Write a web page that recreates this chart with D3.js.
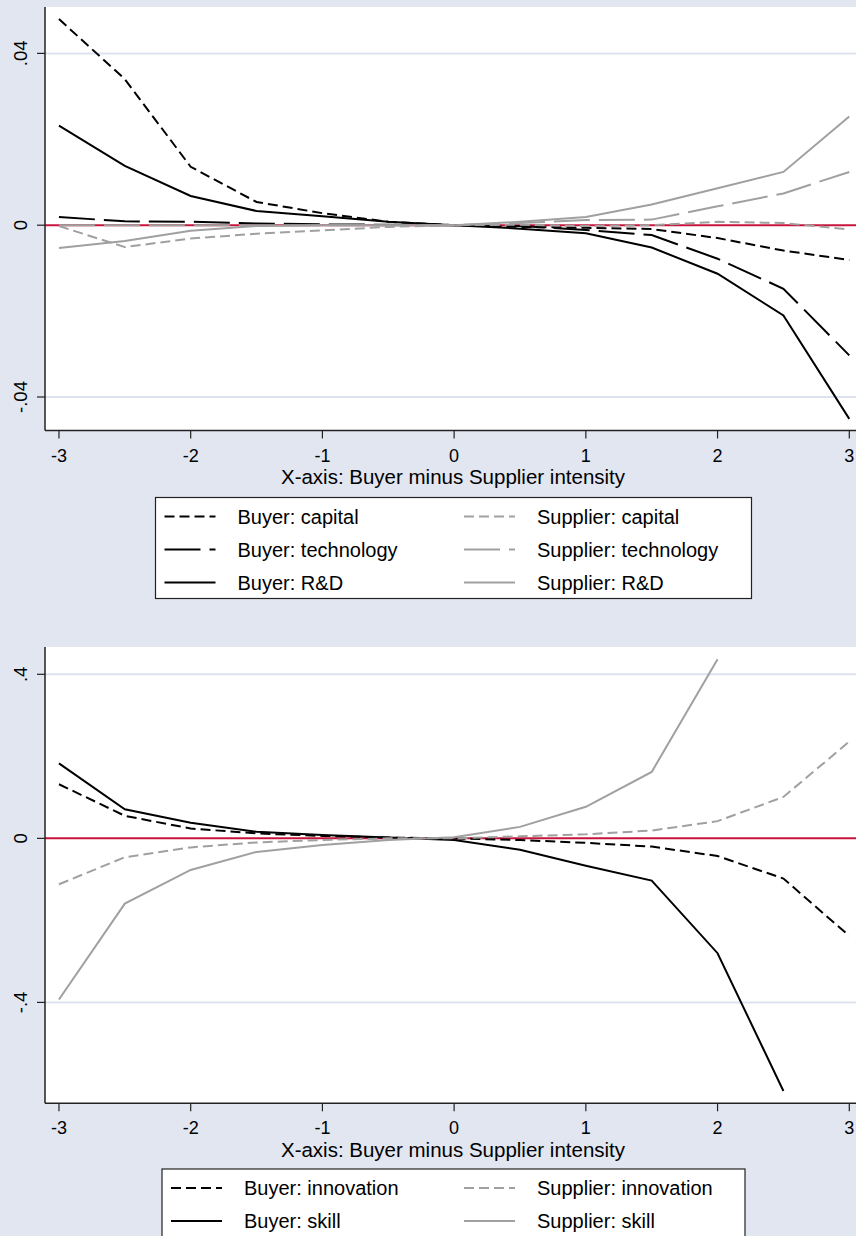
<html>
  <script src="https://d3js.org/d3.v7.min.js"></script>
  <body style="margin:0;background:#e1e6f0">
    <script>
      // x positions shared by every series
      let xValues = [-3, -2.5, -2, -1.5, -1, -0.5, 0, 0.5, 1, 1.5, 2, 2.5, 3];
      let xTicks = [-3, -2, -1, 0, 1, 2, 3];
      let xTitle = "X-axis: Buyer minus Supplier intensity";

      // top panel series
      let buyerCapital       = [0.048, 0.034, 0.0136, 0.0054, 0.0028, 0.0008, 0, -0.0004, -0.0006, -0.0009, -0.0030, -0.0059, -0.0081];
      let buyerTechnology    = [0.0019, 0.0009, 0.0008, 0.0004, 0.0002, 0.0001, 0, -0.0002, -0.0011, -0.0023, -0.0078, -0.0148, -0.0303];
      let buyerRD            = [0.0232, 0.0138, 0.0068, 0.0033, 0.0021, 0.0008, 0, -0.0008, -0.0019, -0.0052, -0.0113, -0.0210, -0.0451];
      let supplierCapital    = [-0.0002, -0.0051, -0.0031, -0.0020, -0.0012, -0.0004, 0, 0.0001, -0.0002, 0.0000, 0.0008, 0.0005, -0.0010];
      let supplierTechnology = [0, 0, 0, 0, 0, 0, 0, 0.0005, 0.0012, 0.0013, 0.0044, 0.0074, 0.0124];
      let supplierRD         = [-0.0053, -0.0037, -0.0013, -0.0002, 0, 0, 0, 0.0008, 0.0019, 0.0048, 0.0086, 0.0124, 0.0253];
      let topYTicks = [-0.04, 0, 0.04];
      let topYLabels = ["-.04", "0", ".04"];

      // bottom panel series (null = not drawn)
      let buyerInnovation    = [0.132, 0.055, 0.024, 0.012, 0.006, 0.002, 0, -0.004, -0.011, -0.020, -0.043, -0.098, -0.238];
      let buyerSkill         = [0.183, 0.071, 0.038, 0.016, 0.008, 0.002, -0.004, -0.028, -0.067, -0.103, -0.280, -0.616, null];
      let supplierInnovation = [-0.112, -0.046, -0.022, -0.010, -0.004, 0, 0, 0.005, 0.010, 0.019, 0.042, 0.101, 0.236];
      let supplierSkill      = [-0.393, -0.159, -0.077, -0.033, -0.016, -0.004, 0.003, 0.028, 0.077, 0.162, 0.437, null, null];
      let bottomYTicks = [-0.4, 0, 0.4];
      let bottomYLabels = ["-.4", "0", ".4"];

      let width = 856;
      let height = 1236;
      let font = "'Liberation Sans', Arial, sans-serif";
      let black = "#000";
      let gray = "#a0a0a0";
      let shortDash = "10,5";
      let longDash = "36,9";

      let svg = d3.select("body").append("svg")
                  .attr("width", width)
                  .attr("height", height)
                  .style("display", "block");
      svg.append("rect").attr("width", width).attr("height", height).attr("fill", "#e1e6f0");

      let x = d3.scaleLinear().domain([-3.106, 3.051]).range([45, 856]);

      function drawPanel(p) {
        let y = d3.scaleLinear().domain(p.yDomain).range([p.bottom, p.top]);
        let g = svg.append("g");
        let clipId = "clip" + p.top;
        g.append("clipPath").attr("id", clipId)
         .append("rect").attr("x", 45).attr("y", p.top).attr("width", width - 45).attr("height", p.bottom - p.top);

        g.append("rect")
         .attr("x", 45).attr("y", p.top)
         .attr("width", width - 45).attr("height", p.bottom - p.top)
         .attr("fill", "white");

        // grid lines
        p.yTicks.forEach(t => {
          if (t === 0) return;
          g.append("line")
           .attr("x1", 45).attr("x2", width)
           .attr("y1", y(t)).attr("y2", y(t))
           .attr("stroke", "#dde3ee").attr("stroke-width", 2);
        });

        // zero reference line
        g.append("line")
         .attr("x1", 45).attr("x2", width)
         .attr("y1", y(0)).attr("y2", y(0))
         .attr("stroke", "#c8143c").attr("stroke-width", 2);

        let line = d3.line()
                     .defined(d => d[1] != null)
                     .x(d => x(d[0]))
                     .y(d => y(d[1]));
        p.series.forEach(s => {
          g.append("path")
           .attr("d", line(xValues.map((v, i) => [v, s.values[i]])))
           .attr("clip-path", `url(#${clipId})`)
           .attr("fill", "none")
           .attr("stroke", s.color)
           .attr("stroke-width", 2)
           .attr("stroke-dasharray", s.dash);
        });

        // axes
        g.append("line").attr("x1", 45).attr("x2", 45).attr("y1", p.top).attr("y2", p.bottom)
         .attr("stroke", "#222").attr("stroke-width", 1.5);
        g.append("line").attr("x1", 45).attr("x2", width).attr("y1", p.bottom).attr("y2", p.bottom)
         .attr("stroke", "#222").attr("stroke-width", 1.5);

        p.yTicks.forEach((t, i) => {
          g.append("line").attr("x1", 37).attr("x2", 45).attr("y1", y(t)).attr("y2", y(t))
           .attr("stroke", "#222").attr("stroke-width", 1.2);
          g.append("text")
           .attr("transform", `translate(27,${y(t)}) rotate(-90)`)
           .attr("text-anchor", "middle")
           .attr("font-family", font).attr("font-size", 18.5)
           .text(p.yLabels[i]);
        });

        xTicks.forEach(t => {
          g.append("line").attr("x1", x(t)).attr("x2", x(t)).attr("y1", p.bottom).attr("y2", p.bottom + 8)
           .attr("stroke", "#222").attr("stroke-width", 1.2);
          g.append("text")
           .attr("x", x(t)).attr("y", p.bottom + 31)
           .attr("text-anchor", "middle")
           .attr("font-family", font).attr("font-size", 18)
           .text(t);
        });

        g.append("text")
         .attr("x", 453).attr("y", p.bottom + 53.5)
         .attr("text-anchor", "middle")
         .attr("font-family", font).attr("font-size", 20.5)
         .text(xTitle);

        // legend
        let L = p.legend;
        g.append("rect")
         .attr("x", L.x).attr("y", L.y).attr("width", L.w).attr("height", L.h)
         .attr("fill", "white").attr("stroke", "#222").attr("stroke-width", 1.2);
        p.series.forEach((s, i) => {
          let col = i < p.series.length / 2 ? 0 : 1;
          let row = col === 0 ? i : i - p.series.length / 2;
          let lx = col === 0 ? L.x + 9 : 464;
          let ly = L.y + 19 + row * 33;
          g.append("line")
           .attr("x1", lx).attr("x2", lx + 51).attr("y1", ly).attr("y2", ly)
           .attr("stroke", s.color).attr("stroke-width", 2)
           .attr("stroke-dasharray", s.dash);
          g.append("text")
           .attr("x", lx + 73).attr("y", ly + 7)
           .attr("font-family", font).attr("font-size", 20)
           .text(s.name);
        });
      }

      drawPanel({
        top: 7, bottom: 430.5,
        yDomain: [-0.0478, 0.0508],
        yTicks: topYTicks, yLabels: topYLabels,
        series: [
          {name: "Buyer: capital", values: buyerCapital, color: black, dash: shortDash},
          {name: "Buyer: technology", values: buyerTechnology, color: black, dash: longDash},
          {name: "Buyer: R&D", values: buyerRD, color: black, dash: null},
          {name: "Supplier: capital", values: supplierCapital, color: gray, dash: shortDash},
          {name: "Supplier: technology", values: supplierTechnology, color: gray, dash: longDash},
          {name: "Supplier: R&D", values: supplierRD, color: gray, dash: null}
        ],
        legend: {x: 155.5, y: 497.5, w: 596, h: 101}
      });

      drawPanel({
        top: 647, bottom: 1103.3,
        yDomain: [-0.646, 0.4666],
        yTicks: bottomYTicks, yLabels: bottomYLabels,
        series: [
          {name: "Buyer: innovation", values: buyerInnovation, color: black, dash: shortDash},
          {name: "Buyer: skill", values: buyerSkill, color: black, dash: null},
          {name: "Supplier: innovation", values: supplierInnovation, color: gray, dash: shortDash},
          {name: "Supplier: skill", values: supplierSkill, color: gray, dash: null}
        ],
        legend: {x: 162, y: 1169, w: 583, h: 90}
      });
    </script>
  </body>
</html>
